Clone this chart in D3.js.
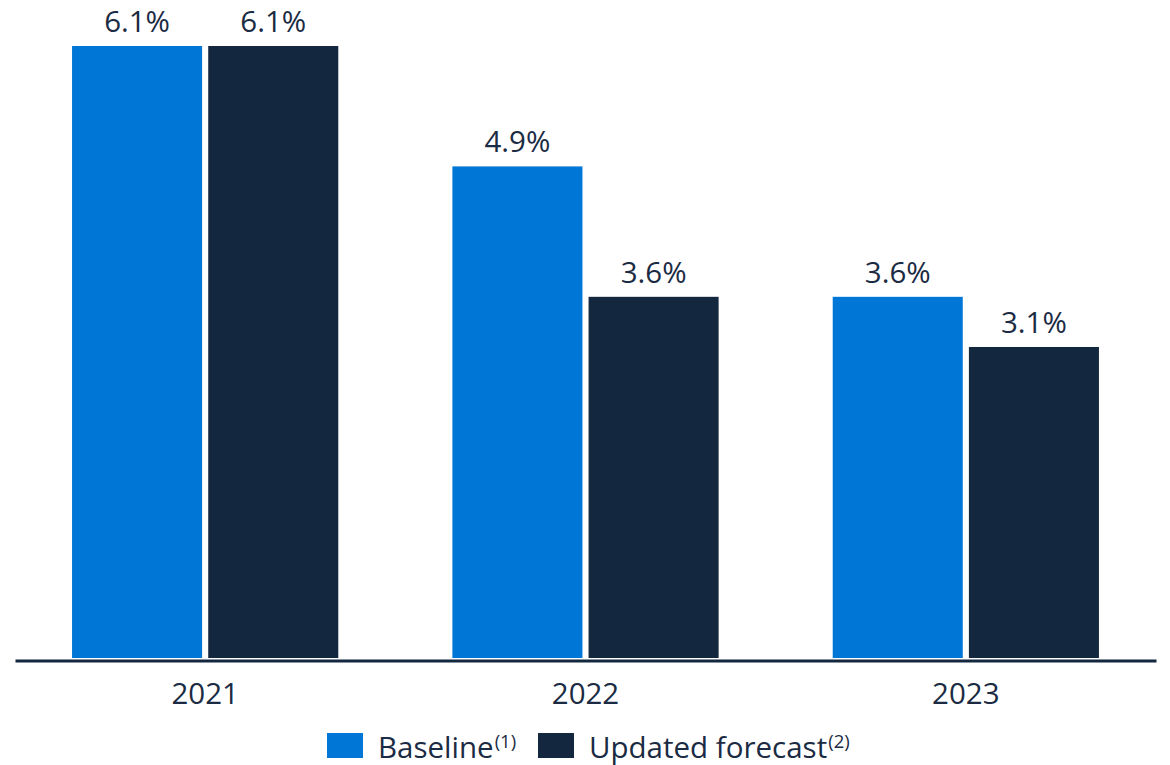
<!DOCTYPE html>
<html>
<head>
<meta charset="utf-8">
<script src="https://cdn.jsdelivr.net/npm/d3@7"></script>
<style>
  html, body { margin: 0; padding: 0; background: #ffffff; }
  svg { display: block; font-family: "Open Sans", "Noto Sans", sans-serif; }
</style>
</head>
<body>
<svg id="chart" width="1170" height="765"></svg>
<script>
// GDP growth: baseline vs. updated forecast
const years = ["2021", "2022", "2023"];
const seriesNames = ["Baseline", "Updated forecast"];
const seriesNotes = ["(1)", "(2)"];
const baselineValues = [6.1, 4.9, 3.6];
const updatedValues = [6.1, 3.6, 3.1];

const colors = ["#0077d6", "#13273f"];
const textColor = "#1b2b43";
const fontSize = 29.5;

const svg = d3.select("#chart");
const baseY = 658;

const x0 = d3.scaleBand()
  .domain(years)
  .range([15, 1156])
  .paddingInner(0.3)
  .paddingOuter(0.15);

const x1 = d3.scaleBand()
  .domain(seriesNames)
  .range([0, x0.bandwidth()])
  .paddingInner(0.045);

const y = d3.scaleLinear()
  .domain([0, 6.1])
  .range([baseY, 46]);

const rows = years.map((yr, i) => ({
  year: yr,
  values: [
    { key: seriesNames[0], value: baselineValues[i], idx: 0 },
    { key: seriesNames[1], value: updatedValues[i], idx: 1 }
  ]
}));

const groups = svg.append("g")
  .selectAll("g")
  .data(rows)
  .join("g")
  .attr("transform", d => `translate(${x0(d.year)},0)`);

groups.selectAll("rect")
  .data(d => d.values)
  .join("rect")
  .attr("x", d => x1(d.key))
  .attr("y", d => y(d.value))
  .attr("width", x1.bandwidth())
  .attr("height", d => baseY - y(d.value))
  .attr("fill", d => colors[d.idx]);

groups.selectAll("text.value")
  .data(d => d.values)
  .join("text")
  .attr("class", "value")
  .attr("x", d => x1(d.key) + x1.bandwidth() / 2)
  .attr("y", d => y(d.value) - 14)
  .attr("text-anchor", "middle")
  .attr("font-size", fontSize)
  .attr("fill", textColor)
  .text(d => d.value.toFixed(1) + "%");

// category axis along the baseline
const axis = svg.append("g")
  .attr("transform", `translate(0,${baseY + 2.5})`)
  .call(d3.axisBottom(x0).tickSize(0).tickPadding(23).tickSizeOuter(0));
axis.select(".domain")
  .attr("stroke", "#13273f")
  .attr("stroke-width", 3);
axis.selectAll(".tick text")
  .attr("font-size", fontSize)
  .attr("font-family", "\"Open Sans\", \"Noto Sans\", sans-serif")
  .attr("fill", textColor);

// legend
const legend = svg.append("g").attr("transform", "translate(327,733)");
const itemX = [0, 211];
seriesNames.forEach((name, i) => {
  const g = legend.append("g").attr("transform", `translate(${itemX[i]},0)`);
  g.append("rect")
    .attr("width", 36)
    .attr("height", 25)
    .attr("fill", colors[i]);
  const t = g.append("text")
    .attr("x", 51)
    .attr("y", 24.5)
    .attr("font-size", fontSize)
    .attr("fill", textColor);
  t.append("tspan").text(name);
  t.append("tspan")
    .attr("font-size", 18.5)
    .attr("dy", -10)
    .attr("dx", 1)
    .text(seriesNotes[i]);
});
</script>
</body>
</html>
